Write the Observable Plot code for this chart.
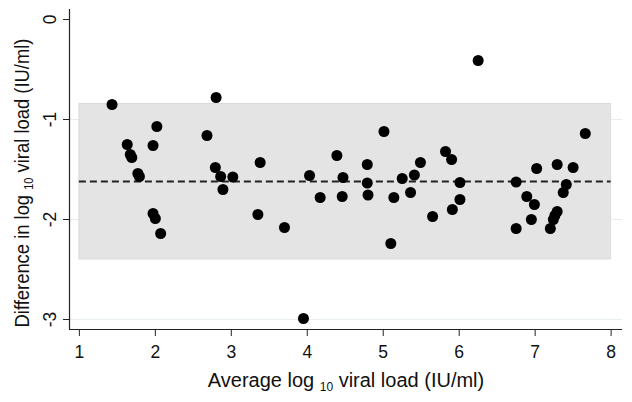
<!DOCTYPE html>
<html><head><meta charset="utf-8">
<script src="https://cdn.jsdelivr.net/npm/d3@7"></script>
<script src="https://cdn.jsdelivr.net/npm/@observablehq/plot@0.6"></script>
<style>body{margin:0;background:#fff;font-family:"Liberation Sans",Arial,Helvetica,sans-serif}</style>
</head><body><div id="chart"></div>
<script>
const avgLoad = [1.43,1.63,1.67,1.69,1.77,1.79,1.97,2.02,1.97,2.00,2.07,2.68,2.80,2.79,2.86,2.89,3.02,3.38,3.35,3.70,3.95,4.03,4.17,4.39,4.47,4.46,4.79,4.79,4.80,5.01,5.10,5.14,5.25,5.36,5.41,5.49,5.65,5.82,5.90,5.91,6.01,6.01,6.25,6.75,6.75,6.89,6.99,6.95,7.02,7.29,7.50,7.41,7.37,7.29,7.26,7.24,7.20,7.66];
const diffLoad = [-0.85,-1.25,-1.35,-1.38,-1.54,-1.57,-1.26,-1.07,-1.94,-1.99,-2.14,-1.16,-0.78,-1.48,-1.57,-1.70,-1.575,-1.43,-1.95,-2.08,-2.99,-1.56,-1.78,-1.36,-1.58,-1.77,-1.45,-1.635,-1.755,-1.12,-2.24,-1.78,-1.59,-1.73,-1.555,-1.43,-1.97,-1.32,-1.40,-1.90,-1.63,-1.80,-0.41,-1.625,-2.09,-1.77,-1.85,-2.00,-1.49,-1.45,-1.48,-1.65,-1.73,-1.92,-1.96,-2.00,-2.09,-1.14];
const meanDiff = -1.62;
const lowerLimit = -2.40;
const upperLimit = -0.845;
const bandStart = 1;
const bandEnd = 8;
const xTicks = [1,2,3,4,5,6,7,8];
const yTicks = [0,-1,-2,-3];
const yTickLabels = ["0","-1","-2","-3"];
const gridTicks = [-1,-2,-3];
const xDomain = [0.87, 8.15];
const yDomain = [-3.1, 0.1];
const xLabel = ["Average log ", "10", " viral load (IU/ml)"];
const yLabel = ["Difference in log ", "10", " viral load (IU/ml)"];

const points = avgLoad.map((x, i) => ({x, y: diffLoad[i]}));
const band = [{x1: bandStart, x2: bandEnd, y1: lowerLimit, y2: upperLimit}];
const meanLine = [{x1: bandStart, x2: bandEnd, y: meanDiff}];

const font = '"Liberation Sans", Arial, Helvetica, sans-serif';
const plot = Plot.plot({
  width: 632, height: 402,
  marginLeft: 69, marginRight: 10, marginTop: 9, marginBottom: 73,
  style: {fontFamily: font, fontSize: "17.5px", color: "#111", background: "#fff"},
  x: {domain: xDomain},
  y: {domain: yDomain},
  marks: [
    Plot.ruleY(gridTicks, {stroke: "#e6eeee", strokeWidth: 1.2}),
    Plot.rect(band, {x1: "x1", x2: "x2", y1: "y1", y2: "y2", fill: "#e4e4e4", stroke: "#dadada", strokeWidth: 1}),
    Plot.ruleY(meanLine, {x1: "x1", x2: "x2", y: "y", stroke: "#222", strokeWidth: 2, strokeDasharray: "7,4"}),
    Plot.dot(points, {x: "x", y: "y", r: 5.5, fill: "#000", stroke: null}),
    Plot.ruleX([xDomain[0]], {stroke: "#222", strokeWidth: 1.2}),
    Plot.ruleY([yDomain[0]], {stroke: "#222", strokeWidth: 1.2}),
    Plot.axisX({ticks: xTicks, tickSize: 7, tickPadding: 9, label: null, fontSize: 17.5, stroke: "#222", tickFormat: d => String(d)}),
    Plot.axisY({ticks: yTicks, tickSize: 6, tickPadding: 8, tickRotate: -90, label: null, fontSize: 17.5, stroke: "#222",
      tickFormat: d => yTickLabels[yTicks.indexOf(d)]})
  ]
});
document.getElementById("chart").appendChild(plot);

const svg = d3.select(plot);
function addLabel(parts, x, y, rotate, sx) {
  const t = svg.append("text")
    .attr("transform", `translate(${x},${y}) rotate(${rotate}) scale(${sx},1)`)
    .attr("text-anchor", "middle")
    .attr("font-family", font)
    .attr("font-size", 20)
    .attr("fill", "#111");
  t.append("tspan").text(parts[0]);
  t.append("tspan").attr("font-size", 12).attr("dy", 3.5).text(parts[1]);
  t.append("tspan").attr("dy", -3.5).text(parts[2]);
}
addLabel(xLabel, 346, 387, 0, 1);
addLabel(yLabel, 29, 183, -90, 0.92);
</script>
</body></html>
